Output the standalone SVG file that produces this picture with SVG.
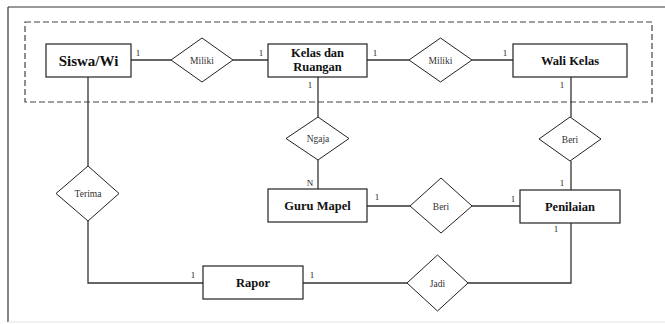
<svg xmlns="http://www.w3.org/2000/svg" width="665" height="324" viewBox="0 0 665 324">
<style>
.ent{fill:#fff;stroke:#222;stroke-width:1.2}
.rel{fill:#fff;stroke:#222;stroke-width:1}
.ln{fill:none;stroke:#333;stroke-width:1.3}
.et{font-weight:bold;font-size:12.5px;fill:#111;text-anchor:middle}
.rt{font-size:9.5px;fill:#333;text-anchor:middle}
.ct{font-size:9px;fill:#222;text-anchor:middle}
</style>
<rect width="665" height="324" fill="#fff"/>
<g id="frame">
<line x1="8" y1="7" x2="665" y2="7" stroke="#777" stroke-width="1.5"/>
<line x1="8" y1="7" x2="8" y2="322" stroke="#333" stroke-width="1.2"/>
<line x1="8" y1="322" x2="665" y2="322" stroke="#e4e4e4" stroke-width="1"/>
<rect x="25" y="22" width="627" height="80" fill="none" stroke="#444" stroke-width="1.2" stroke-dasharray="6,3"/>
</g>
<g font-family="Liberation Serif, Times New Roman, serif">
<g id="connectors">
<polyline class="ln" points="131,60 171,60"/>
<polyline class="ln" points="233,60 268,60"/>
<polyline class="ln" points="367,60 409,60"/>
<polyline class="ln" points="472,60 513,60"/>
<polyline class="ln" points="318,77 318,117"/>
<polyline class="ln" points="318,160 318,189"/>
<polyline class="ln" points="571,77 571,117"/>
<polyline class="ln" points="571,161 571,190"/>
<polyline class="ln" points="367,206 410,206"/>
<polyline class="ln" points="472,206 520,206"/>
<polyline class="ln" points="88,77 88,166"/>
<polyline class="ln" points="88,221 88,283 203,283"/>
<polyline class="ln" points="303,283 407,283"/>
<polyline class="ln" points="468,283 571,283 571,223"/>
<text class="ct" x="138" y="56">1</text>
<text class="ct" x="261" y="56">1</text>
<text class="ct" x="310" y="88">1</text>
<text class="ct" x="375" y="56">1</text>
<text class="ct" x="505" y="56">1</text>
<text class="ct" x="562" y="88">1</text>
<text class="ct" x="310" y="186">N</text>
<text class="ct" x="377" y="200">1</text>
<text class="ct" x="513" y="202">1</text>
<text class="ct" x="562" y="186">1</text>
<text class="ct" x="556" y="232">1</text>
<text class="ct" x="193" y="278">1</text>
<text class="ct" x="312" y="278">1</text>
</g>
<g id="siswa"><rect class="ent" x="46" y="44" width="85" height="33"/><text class="et" x="88.5" y="65.5" style="font-size:15px">Siswa/Wi</text></g>
<g id="miliki1"><polygon class="rel" points="171,60 202,38 233,60 202,82"/><text class="rt" x="202" y="63.5">Miliki</text></g>
<g id="kelas"><rect class="ent" x="268" y="44" width="99" height="33"/><text class="et" x="317.5" y="57">Kelas dan</text><text class="et" x="317.5" y="70.5">Ruangan</text></g>
<g id="miliki2"><polygon class="rel" points="409,60 440.5,38 472,60 440.5,82"/><text class="rt" x="440.5" y="63.5">Miliki</text></g>
<g id="wali"><rect class="ent" x="513" y="44" width="114" height="33"/><text class="et" x="570" y="65">Wali Kelas</text></g>
<g id="ngaja"><polygon class="rel" points="286,138.5 318,117 349,138.5 318,160"/><text class="rt" x="318" y="142">Ngaja</text></g>
<g id="beri1"><polygon class="rel" points="539,139 570,117 601,139 570,161"/><text class="rt" x="570" y="142.5">Beri</text></g>
<g id="terima"><polygon class="rel" points="56,193.5 88,166 119,193.5 88,221"/><text class="rt" x="88" y="197">Terima</text></g>
<g id="guru"><rect class="ent" x="268" y="189" width="99" height="33"/><text class="et" x="317.5" y="210">Guru Mapel</text></g>
<g id="beri2"><polygon class="rel" points="410,206 441,178 472,206 441,233"/><text class="rt" x="441" y="209.5">Beri</text></g>
<g id="penilaian"><rect class="ent" x="520" y="190" width="100" height="33"/><text class="et" x="570" y="211">Penilaian</text></g>
<g id="rapor"><rect class="ent" x="203" y="266" width="100" height="33"/><text class="et" x="253" y="287">Rapor</text></g>
<g id="jadi"><polygon class="rel" points="407,283 437.5,255 468,283 437.5,311"/><text class="rt" x="437.5" y="286.5">Jadi</text></g>
</g>
</svg>
